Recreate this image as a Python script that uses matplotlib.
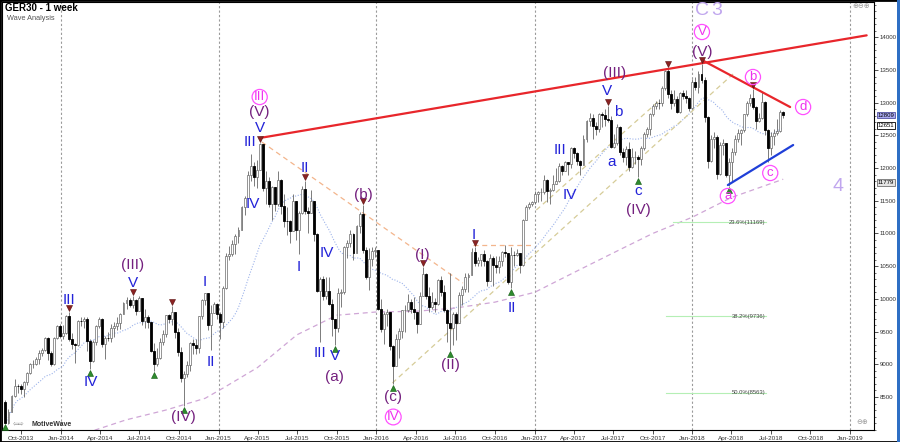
import matplotlib
matplotlib.use("Agg")
import matplotlib.pyplot as plt
import matplotlib.dates as mdates
import matplotlib.transforms as mtransforms
from matplotlib.ticker import MultipleLocator, FixedLocator
from matplotlib.patches import Rectangle
import numpy as np
import pandas as pd

plt.rcParams['font.family'] = ['Liberation Sans', 'DejaVu Sans']

# ---------------- data (weekly GER30 candles, week starting Monday) ----------------
FIRST_WEEK = "2013-08-26"
FIRST_OPEN = 8416

close_2013 = [8103, 8276, 8510, 8675, 8661, 8622, 8725, 8870, 9001, 9010, 9079, 9168, 9213, 9405, 9172, 9006, 9400, 9589, 9435]
high_2013 = [8450, 8320, 8530, 8770, 8700, 8700, 8750, 8880, 9020, 9070, 9110, 9220, 9250, 9420, 9410, 9200, 9420, 9600, 9620]
low_2013 = [8100, 8090, 8270, 8500, 8560, 8550, 8500, 8690, 8850, 8950, 8990, 9000, 9130, 9200, 9070, 8970, 8990, 9390, 9400]

close_2014 = [9473, 9742, 9392, 9306, 9290, 9662, 9656, 9692, 9350, 9056, 9342, 9587, 9695, 9315, 9409, 9401, 9556, 9581, 9630, 9769, 9943, 9987, 9912, 9987, 9815, 10009, 9666, 9720, 9644, 9210, 9009, 9092, 9339, 9470, 9747, 9691, 9799, 9490, 9195, 8788, 8850, 8988, 9326, 9291, 9252, 9732, 9980, 10087, 9594, 9786, 9927, 9764]
high_2014 = [9600, 9760, 9800, 9480, 9330, 9670, 9730, 9720, 9720, 9380, 9370, 9600, 9720, 9710, 9430, 9490, 9620, 9650, 9720, 9780, 9950, 10030, 10020, 10050, 10000, 10040, 10010, 9840, 9760, 9650, 9330, 9250, 9400, 9520, 9750, 9770, 9890, 9800, 9550, 9270, 8900, 9050, 9340, 9380, 9380, 9740, 10000, 10093, 10090, 9900, 9950, 9930]
low_2014 = [9380, 9460, 9350, 9230, 9020, 9280, 9580, 9550, 9200, 8935, 9040, 9300, 9550, 9270, 9080, 9350, 9340, 9420, 9520, 9540, 9770, 9840, 9870, 9860, 9760, 9810, 9600, 9560, 9550, 9190, 8900, 8980, 9080, 9300, 9420, 9630, 9600, 9400, 9130, 8730, 8355, 8800, 8900, 9150, 9150, 9170, 9700, 9900, 9530, 9219, 9780, 9700]

close_2015 = [9648, 10167, 10649, 10694, 10846, 10963, 11050, 11401, 11550, 11901, 12039, 11868, 11967, 12374, 11689, 11810, 11454, 11709, 11447, 11815, 11413, 11197, 11196, 11040, 11492, 11058, 11315, 11673, 11347, 11308, 11490, 10985, 10124, 10298, 10038, 10123, 9916, 9688, 9553, 10096, 10104, 10795, 10850, 10988, 10708, 11119, 11293, 10752, 10340, 10608, 10727, 10743]
high_2015 = [9800, 10200, 10700, 10810, 10900, 10990, 11100, 11420, 11570, 11950, 12220, 12100, 12120, 12390, 12300, 11950, 11870, 11720, 11700, 11950, 11830, 11600, 11400, 11200, 11600, 11500, 11350, 11730, 11800, 11400, 11670, 11500, 11000, 10330, 10350, 10340, 10330, 10000, 9700, 10170, 10150, 10810, 10900, 11050, 11000, 11130, 11330, 11430, 10800, 10780, 10800, 10800]
low_2015 = [9380, 9550, 10150, 10600, 10650, 10680, 10860, 11050, 11290, 11550, 11800, 11720, 11700, 11980, 11650, 11450, 11400, 11200, 11340, 11420, 11300, 11100, 10970, 10850, 11040, 10900, 10680, 11300, 11300, 11010, 11310, 10880, 10100, 9338, 9990, 10000, 9900, 9430, 9300, 9500, 9880, 10080, 10620, 10800, 10600, 10700, 11000, 10700, 10300, 10130, 10500, 10640]

close_2016 = [9849, 9545, 9764, 9798, 9286, 8967, 9388, 9513, 9824, 9831, 9950, 9851, 9794, 9622, 10051, 10373, 10039, 9870, 9952, 9916, 10287, 10103, 9834, 9631, 9557, 9776, 9630, 10066, 10147, 10337, 10367, 10713, 10544, 10588, 10684, 10573, 10276, 10626, 10511, 10490, 10580, 10711, 10696, 10259, 10668, 10664, 10699, 10513, 11203, 11404, 11449, 11481]
high_2016 = [10750, 10000, 9800, 9850, 9800, 9300, 9470, 9550, 9830, 9900, 10070, 10000, 10030, 9800, 10100, 10480, 10400, 10180, 10100, 10020, 10300, 10350, 10210, 9850, 10400, 9800, 9800, 10100, 10200, 10400, 10400, 10780, 10800, 10640, 10690, 10740, 10600, 10680, 10650, 10650, 10650, 10730, 10830, 10700, 10800, 10730, 10760, 10700, 11220, 11440, 11480, 11500]
low_2016 = [9830, 9500, 9310, 9580, 9220, 8700, 9000, 9100, 9400, 9500, 9800, 9780, 9700, 9480, 9630, 10050, 10000, 9800, 9850, 9800, 9910, 10050, 9800, 9340, 9214, 9300, 9370, 9650, 9900, 10100, 10100, 10400, 10500, 10500, 10500, 10500, 10200, 10280, 10200, 10400, 10400, 10500, 10640, 10230, 10170, 10500, 10650, 10400, 10500, 11200, 11380, 11420]

close_2017 = [11599, 11629, 11630, 11814, 11651, 11666, 11757, 11804, 12027, 11963, 12095, 12064, 12313, 12225, 12109, 12049, 12438, 12717, 12770, 12638, 12602, 12823, 12815, 12752, 12733, 12325, 12389, 12632, 12240, 12163, 12298, 12014, 12165, 12168, 12143, 12304, 12519, 12592, 12829, 12956, 12992, 12991, 13218, 13479, 13127, 12994, 13060, 12861, 13154, 13104, 13073, 12918]
high_2017 = [11650, 11650, 11700, 11890, 11830, 11700, 11900, 12000, 12080, 12050, 12110, 12100, 12330, 12330, 12250, 12120, 12500, 12730, 12840, 12830, 12700, 12850, 12860, 12900, 12951, 12800, 12520, 12680, 12650, 12300, 12340, 12400, 12300, 12260, 12200, 12340, 12550, 12630, 12840, 12980, 13030, 13050, 13250, 13500, 13525, 13200, 13200, 13100, 13170, 13200, 13200, 13080]
low_2017 = [11450, 11480, 11500, 11600, 11480, 11450, 11650, 11750, 11780, 11900, 11950, 11900, 12000, 12150, 12050, 11900, 12040, 12400, 12650, 12450, 12500, 12550, 12630, 12650, 12700, 12300, 12300, 12350, 12200, 12100, 12050, 11950, 12000, 12060, 11870, 12050, 12280, 12480, 12500, 12800, 12900, 12900, 12950, 13200, 13070, 12900, 12950, 12850, 12850, 13050, 13000, 12880]

close_2018 = [13320, 13246, 13434, 13340, 12785, 12107, 12452, 12483, 11914, 12346, 12390, 11887, 12097, 12241, 12442, 12540, 12580, 12820, 13001, 13078, 12938, 12724, 12767, 13011, 12580, 12306, 12496, 12541, 12561, 12860, 12809]
high_2018 = [13370, 13400, 13480, 13596, 13400, 12800, 12500, 12550, 12500, 12400, 12450, 12390, 12150, 12300, 12500, 12600, 12600, 12830, 13020, 13130, 13204, 12950, 12850, 13170, 13020, 12600, 12550, 12600, 12750, 12890, 12880]
low_2018 = [12900, 13200, 13150, 13300, 12700, 12000, 12100, 12300, 11830, 11900, 12200, 11860, 11726, 11800, 12200, 12400, 12350, 12550, 12800, 12950, 12900, 12600, 12700, 12750, 12500, 12100, 12200, 12350, 12500, 12550, 12760]

# long (100-week) moving average
ma_long_dates = ["2014-03-01", "2014-06-01", "2014-09-01", "2014-12-01", "2015-01-15", "2015-04-01",
                 "2015-07-01", "2015-10-01", "2016-01-01", "2016-04-01", "2016-07-01", "2016-10-01",
                 "2017-01-01", "2017-04-01", "2017-07-01", "2017-10-01", "2018-01-01", "2018-04-01", "2018-07-30"]
ma_long_vals = [7950, 8150, 8300, 8480, 8650, 8950, 9450, 9750, 9800, 9810, 9860, 9950,
                10100, 10400, 10700, 11000, 11250, 11550, 11830]

# wave labels: (text, date, price)
blue_labels = [("III", "2014-01-19", 9983), ("IV", "2014-03-11", 8729), ("V", "2014-06-16", 10243),
               ("I", "2014-11-30", 10258), ("II", "2014-12-14", 9035), ("V", "2015-04-06", 12613),
               ("III", "2015-03-14", 12399), ("IV", "2015-03-21", 11451), ("I", "2015-07-06", 10488),
               ("II", "2015-07-20", 12001), ("IV", "2015-09-09", 10702), ("III", "2015-08-23", 9173),
               ("V", "2015-09-27", 9127), ("I", "2016-08-14", 10977), ("II", "2016-11-10", 9861),
               ("III", "2017-03-01", 12277), ("IV", "2017-03-24", 11589), ("V", "2017-06-18", 13180),
               ("b", "2017-07-13", 12858), ("a", "2017-06-29", 12093), ("c", "2017-08-28", 11650)]
purple_labels = [("(III)", "2014-06-16", 10518), ("(IV)", "2014-10-12", 8194), ("(V)", "2015-04-06", 12858),
                 ("(a)", "2015-09-27", 8806), ("(b)", "2015-12-01", 11589), ("(c)", "2016-02-09", 8500),
                 ("(I)", "2016-04-17", 10671), ("(II)", "2016-06-21", 8989), ("(III)", "2017-07-04", 13454),
                 ("(IV)", "2017-08-28", 11359), ("(V)", "2018-01-23", 13775)]
circled_labels = [("III", "2015-04-06", 13087), ("IV", "2016-02-09", 8194), ("V", "2018-01-23", 14081),
                  ("b", "2018-05-21", 13393), ("d", "2018-09-14", 12934), ("c", "2018-06-30", 11925),
                  ("a", "2018-03-24", 11573)]
big_labels = [("C", "2018-01-24", 14417), ("3", "2018-02-27", 14417), ("4", "2018-12-04", 11711)]

peak_weeks = ["2014-01-20", "2014-06-16", "2014-09-15", "2015-04-06", "2015-07-20", "2015-11-30",
              "2016-04-18", "2016-08-15", "2017-06-19", "2017-11-06", "2018-01-22", "2018-05-21"]
trough_weeks = ["2013-08-26", "2014-03-10", "2014-08-04", "2014-10-13", "2015-09-28", "2016-02-08",
                "2016-06-20", "2016-11-07", "2017-08-28", "2018-03-26"]

# trend / channel lines: (date1, price1, date2, price2)
red_lines = [("2015-04-06", 12460, "2019-02-08", 14030), ("2018-01-23", 13653, "2018-08-15", 12934)]
blue_lines = [("2018-03-24", 11741, "2018-08-22", 12353)]
orange_dash = [("2015-04-11", 12399, "2016-07-19", 10243), ("2016-08-11", 10824, "2016-12-28", 10824)]
tan_dash = [("2016-02-07", 8714, "2018-04-05", 13439), ("2017-01-05", 11359, "2017-10-18", 13041)]

fib_levels = [("23.6%(11169)", 11169, "2017-11-16"), ("38.2%(9736)", 9736, "2017-11-02"),
              ("50.0%(8563)", 8563, "2017-11-02")]
fib_end = "2018-06-21"

price_boxes = [("12809", 12809, "#a9a9f2", "#5050a0"), ("12651", 12651, "white", "black"),
               ("11779", 11779, "#e4e4e4", "#707070")]

# ---------------- build series ----------------
closes = np.array(close_2013 + close_2014 + close_2015 + close_2016 + close_2017 + close_2018, float)
highs = np.array(high_2013 + high_2014 + high_2015 + high_2016 + high_2017 + high_2018, float)
lows = np.array(low_2013 + low_2014 + low_2015 + low_2016 + low_2017 + low_2018, float)
opens = np.concatenate([[FIRST_OPEN], closes[:-1]])
highs = np.maximum(highs, np.maximum(opens, closes))
lows = np.minimum(lows, np.minimum(opens, closes))
dates = pd.date_range(FIRST_WEEK, periods=len(closes), freq="W-MON")
xs = mdates.date2num(dates.to_pydatetime())

def dn(s):
    return mdates.datestr2num(s)

# ---------------- figure ----------------
fig = plt.figure(figsize=(9, 4.42), dpi=100)
ax = fig.add_axes([2 / 900, 12 / 442, 872 / 900, 428 / 442])
ax.set_xlim(dn("2013-08-18"), dn("2019-02-25"))
ax.set_ylim(7995, 14540)

for yr in range(2014, 2020):
    ax.axvline(dn(f"{yr}-01-01"), color="#9a9a9a", lw=0.8, ls=(0, (2, 2)), zorder=1)

# moving averages
ma20 = pd.Series(closes).rolling(20, min_periods=1).mean().values
ax.plot(xs, ma20, color="#9db3ea", lw=0.8, ls=(0, (1, 1.5)), zorder=2)
ax.plot([dn(d) for d in ma_long_dates], ma_long_vals, color="#cfa6d6", lw=0.9, ls=(0, (4, 3)), zorder=2)

# channel lines
for d1, p1, d2, p2 in orange_dash:
    ax.plot([dn(d1), dn(d2)], [p1, p2], color="#f3b58c", lw=0.9, ls=(0, (4, 3)), zorder=2)
for d1, p1, d2, p2 in tan_dash:
    ax.plot([dn(d1), dn(d2)], [p1, p2], color="#d6cc98", lw=0.9, ls=(0, (4, 3)), zorder=2)

# fib levels
for txt, lvl, d0 in fib_levels:
    ax.plot([dn(d0), dn(fib_end)], [lvl, lvl], color="#b5efb5", lw=0.8, zorder=2)
    ax.text(dn(fib_end) - 3, lvl, txt, fontsize=4.2, color="#444444", ha="right", va="center", zorder=3)

# candles
up = closes >= opens
ax.vlines(xs, lows, highs, color="#666666", lw=0.6, zorder=3)
ax.bar(xs[up], (closes - opens)[up], bottom=opens[up], width=4.5, color="white",
       edgecolor="#6a6a6a", lw=0.5, zorder=4)
ax.bar(xs[~up], (opens - closes)[~up], bottom=closes[~up], width=4.5, color="black",
       edgecolor="black", lw=0.6, zorder=4)

# trend lines
for d1, p1, d2, p2 in red_lines:
    ax.plot([dn(d1), dn(d2)], [p1, p2], color="#e8262b", lw=1.6, zorder=5, solid_capstyle="round")
for d1, p1, d2, p2 in blue_lines:
    ax.plot([dn(d1), dn(d2)], [p1, p2], color="#1f3fd8", lw=1.6, zorder=5, solid_capstyle="round")

# peak / trough markers
hi_map = dict(zip(dates.strftime("%Y-%m-%d"), highs))
lo_map = dict(zip(dates.strftime("%Y-%m-%d"), lows))
tr_up = mtransforms.offset_copy(ax.transData, fig=fig, y=4, units="dots")
tr_dn = mtransforms.offset_copy(ax.transData, fig=fig, y=-4, units="dots")
ax.plot([dn(d) for d in peak_weeks], [hi_map[d] for d in peak_weeks], "v", ms=4.5,
        color="#8b2323", mec="#5a1010", mew=0.4, transform=tr_up, zorder=6, ls="none")
ax.plot([dn(d) for d in trough_weeks], [lo_map[d] for d in trough_weeks], "^", ms=4.5,
        color="#2e8b2e", mec="#105a10", mew=0.4, transform=tr_dn, zorder=6, ls="none")

# wave labels
for t, d, p in blue_labels:
    ax.text(dn(d), p, t, color="#2323d8", fontsize=11, ha="center", va="center", zorder=7)
for t, d, p in purple_labels:
    ax.text(dn(d), p, t, color="#74207e", fontsize=11, ha="center", va="center", zorder=7)
for t, d, p in circled_labels:
    ax.text(dn(d), p, t, color="#ee30ee", fontsize=9.5, ha="center", va="center", zorder=7,
            bbox=dict(boxstyle="circle,pad=0.12", fc="none", ec="#ff50ff", lw=0.9))
for t, d, p in big_labels:
    ax.text(dn(d), p, t, color="#c0a6ee", fontsize=14, ha="center", va="center", zorder=7)

# axes styling
for s in ax.spines.values():
    s.set_color("black")
    s.set_linewidth(0.8)
ax.yaxis.tick_right()
ax.yaxis.set_major_locator(FixedLocator(list(range(8500, 14001, 500))))
ax.yaxis.set_minor_locator(MultipleLocator(100))
ax.tick_params(axis="y", which="major", length=3, width=0.6, labelsize=4.4, pad=1.2, colors="#333333")
ax.tick_params(axis="y", which="minor", length=1.5, width=0.5, colors="#333333")
ax.xaxis.set_major_locator(mdates.MonthLocator(bymonth=[1, 4, 7, 10]))
ax.xaxis.set_major_formatter(mdates.DateFormatter("%b-%Y"))
ax.tick_params(axis="x", which="major", length=3, width=0.6, labelsize=4.6, pad=1.2, colors="#333333")

# price boxes on the right axis
btr = mtransforms.blended_transform_factory(ax.transAxes, ax.transData)
for txt, p, fc, ec in price_boxes:
    ax.text(1.004, p, txt, transform=btr, fontsize=4.3, ha="left", va="center", color="black",
            bbox=dict(boxstyle="square,pad=0.12", fc=fc, ec=ec, lw=0.6), zorder=8, clip_on=False)

# titles / decorations
fig.text(5 / 900, 1 - 8 / 442, "GER30 - 1 week", fontsize=7, fontweight="bold", va="center", ha="left")
fig.text(7 / 900, 1 - 18 / 442, "Wave Analysis", fontsize=5.3, color="#555555", va="center", ha="left")
fig.text(13 / 900, 1 - 424 / 442, "\u21e6\u21e8", fontsize=5, color="#888888", va="center", ha="left")
fig.text(32 / 900, 1 - 424 / 442, "MotiveWave", fontsize=5, color="#333333", fontweight="bold",
         va="center", ha="left")
fig.text(852 / 900, 1 - 6 / 442, "\u2295\u2296\u2295", fontsize=5, color="#999999", va="center", ha="left")
fig.text(856 / 900, 1 - 422 / 442, "\u2296\u2295", fontsize=5, color="#999999", va="center", ha="left")

fig.add_artist(Rectangle((0, 0), 1, 1, transform=fig.transFigure, fill=False, ec="black", lw=2))
fig.add_artist(Rectangle((896.5 / 900, 0), 3.5 / 900, 1, transform=fig.transFigure, fc="#2f6fc4", ec="none"))

fig.savefig("out.png", dpi=100)
